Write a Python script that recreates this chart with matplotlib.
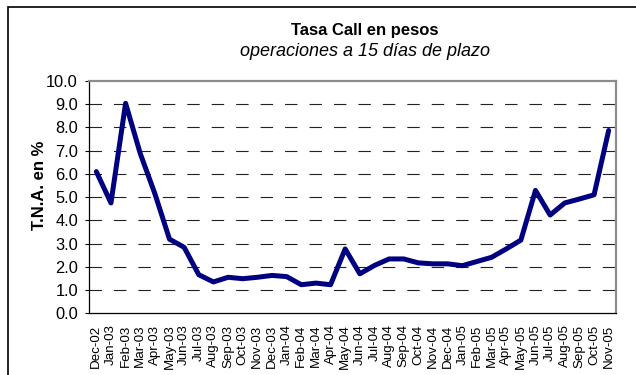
import matplotlib
matplotlib.use("Agg")
import matplotlib.pyplot as plt
from matplotlib.patches import Rectangle

plt.rcParams['font.family'] = ['Liberation Sans', 'DejaVu Sans']

months = ["Dec-02", "Jan-03", "Feb-03", "Mar-03", "Apr-03", "May-03", "Jun-03",
          "Jul-03", "Aug-03", "Sep-03", "Oct-03", "Nov-03", "Dec-03", "Jan-04",
          "Feb-04", "Mar-04", "Apr-04", "May-04", "Jun-04", "Jul-04", "Aug-04",
          "Sep-04", "Oct-04", "Nov-04", "Dec-04", "Jan-05", "Feb-05", "Mar-05",
          "Apr-05", "May-05", "Jun-05", "Jul-05", "Aug-05", "Sep-05", "Oct-05",
          "Nov-05"]
tasa_call = [6.10, 4.75, 9.04, 6.88, 5.15, 3.19, 2.84, 1.66, 1.35, 1.55,
             1.49, 1.55, 1.63, 1.58, 1.23, 1.30, 1.23, 2.77, 1.70, 2.06,
             2.34, 2.34, 2.17, 2.13, 2.13, 2.05, 2.23, 2.41, 2.77, 3.15,
             5.29, 4.23, 4.75, 4.92, 5.10, 7.87]
y_ticks = [0.0, 1.0, 2.0, 3.0, 4.0, 5.0, 6.0, 7.0, 8.0, 9.0, 10.0]

W, H = 636, 375
fig = plt.figure(figsize=(W / 100, H / 100), dpi=100)
fig.patch.set_facecolor("white")

# outer chart frame
fig.patches.append(Rectangle((8 / W, -0.05), 1.2, (H - 7) / H + 0.05,
                             transform=fig.transFigure, fill=False,
                             edgecolor="black", linewidth=1.2, zorder=0))

ax = fig.add_axes([89 / W, (H - 313.3) / H, (616 - 89) / W, (313.3 - 81) / H])
ax.set_facecolor("white")

x = list(range(len(months)))
ax.plot(x, tasa_call, color="#000080", linewidth=3.6, solid_joinstyle="round",
        solid_capstyle="round", zorder=3)

ax.set_xlim(-0.5, len(months) - 0.5)
ax.set_ylim(0, 10)
ax.set_yticks(y_ticks)
ax.set_yticklabels([f"{v:.1f}" for v in y_ticks], fontsize=11.8)
ax.set_xticks(x)
ax.set_xticklabels(months, rotation=90, fontsize=9.6, va="top", ha="center")
ax.tick_params(axis="x", length=0, pad=8)
ax.tick_params(axis="y", length=3, width=0.8, direction="out", pad=5)

for v in y_ticks[1:-1]:
    ax.axhline(v, color="#222222", linewidth=0.8, linestyle=(0, (11.2, 10.8)),
               zorder=1)

for side in ("left", "bottom"):
    ax.spines[side].set_color("black")
    ax.spines[side].set_linewidth(0.9)
for side in ("top", "right"):
    ax.spines[side].set_color("#8c8c8c")
    ax.spines[side].set_linewidth(1.6)

fig.text(40 / W, 1 - 185 / H, "T.N.A. en %", fontsize=12, fontweight="bold",
         rotation=90, ha="center", va="center")

fig.text(365 / W, 1 - 30 / H, "Tasa Call en pesos", fontsize=12,
         fontweight="bold", ha="center", va="center")
fig.text(365 / W, 1 - 51 / H, "operaciones a 15 días de plazo", fontsize=13,
         style="italic", ha="center", va="center")

fig.savefig("out.png", dpi=100, facecolor="white")
